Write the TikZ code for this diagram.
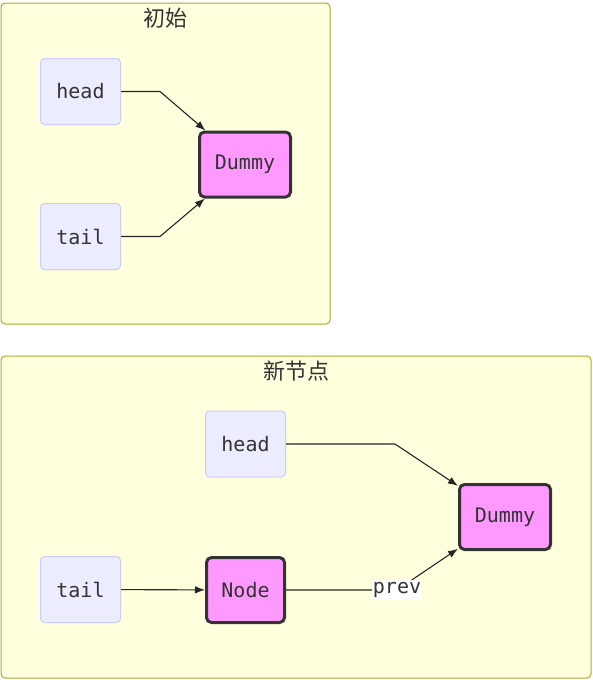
\documentclass[tikz,border=0pt]{standalone}
\usepackage{fontspec}
\setmonofont{DejaVu Sans Mono}
\newfontfamily\cjk{Noto Sans CJK SC}
\usepackage{tikz}
\usetikzlibrary{arrows.meta}
\definecolor{grupofundo}{HTML}{FFFFDE}
\definecolor{grupoborda}{HTML}{AAAA33}
\definecolor{ptrfundo}{HTML}{ECECFF}
\definecolor{ptrborda}{HTML}{CCCCFF}
\definecolor{nofundo}{HTML}{FF99FF}
\definecolor{escuro}{HTML}{333333}

\begin{document}
\begin{tikzpicture}[x=1pt,y=-1pt]
\tikzstyle{grupo}=[rounded corners=4pt, fill=grupofundo, draw=grupoborda, line width=1pt]
\tikzstyle{titulo}=[font=\cjk\fontsize{22}{25}\selectfont, text=escuro]
\tikzstyle{ponteiro}=[rectangle, rounded corners=4pt, fill=ptrfundo, draw=ptrborda, line width=1pt, minimum width=80pt, minimum height=66pt, font=\ttfamily\fontsize{20}{23}\selectfont, text=escuro]
\tikzstyle{no}=[rectangle, rounded corners=5pt, fill=nofundo, draw=escuro, line width=3pt, minimum height=65pt, font=\ttfamily\fontsize{20}{23}\selectfont, text=escuro]
\tikzstyle{seta}=[-{Latex[length=10pt,width=7.5pt]}, line width=1.1pt, draw=black!85]
\tikzstyle{rotulo}=[rectangle, fill=white, inner xsep=1pt, inner ysep=2.5pt, font=\ttfamily\fontsize{20}{23}\selectfont, text=escuro]
 \useasboundingbox (0,0) rectangle (592,680);
 \draw[grupo] (1,3) rectangle (330,324);
 \node[titulo] (t1) at (165,18) {初始};
 \node[ponteiro] (h1) at (80.5,91.5) {head};
 \node[ponteiro] (c1) at (80.5,236.5) {tail};
 \node[no, minimum width=91pt] (d1) at (245,164.5) {Dummy};
 \draw[seta] (h1.east) -- ++(39,0) -- (d1);
 \draw[seta] (c1.east) -- ++(39,0) -- (d1);
 \draw[grupo] (1,356) rectangle (591,678);
 \node[titulo] (t2) at (296,371) {新节点};
 \node[ponteiro] (h2) at (245.5,444) {head};
 \node[ponteiro] (c2) at (80.5,589.5) {tail};
 \node[no, minimum width=78pt] (n2) at (245.5,590) {Node};
 \node[no, minimum width=91pt] (d2) at (505,517) {Dummy};
 \draw[seta] (h2.east) -- ++(109,0) -- (d2);
 \draw[seta] (c2) -- (n2);
 \draw[seta] (n2.east) -- ++(111,0) node[rotulo]{prev} -- (d2);
\end{tikzpicture}
\end{document}
